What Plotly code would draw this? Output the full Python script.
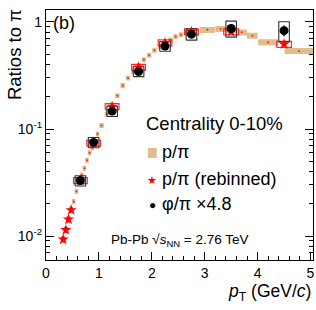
import plotly.graph_objects as go

# ---- data ----
tan_pt = [0.525, 0.575, 0.625, 0.675, 0.725, 0.775, 0.825, 0.875, 0.925, 0.975,
          1.05, 1.15, 1.25, 1.35, 1.45, 1.55, 1.65, 1.75, 1.85, 1.95,
          2.05, 2.15, 2.25, 2.35, 2.45, 2.55, 2.65, 2.75, 3.05, 3.3,
          3.5, 3.7, 3.9, 4.2, 4.78]
tan_val = [0.021, 0.0262, 0.031, 0.0372, 0.043, 0.051, 0.060, 0.067, 0.077, 0.090,
           0.108, 0.138, 0.168, 0.205, 0.255, 0.30, 0.345, 0.39, 0.445, 0.49,
           0.545, 0.59, 0.635, 0.68, 0.73, 0.76, 0.80, 0.815, 0.845, 0.86,
           0.845, 0.80, 0.745, 0.646, 0.536]
tan_hw = [0.033] * 10 + [0.042] * 17 + [0.05, 0.14, 0.1, 0.1, 0.1, 0.1, 0.19, 0.27]
tan_sys = [0.055] * 10 + [0.055] * 17 + [0.065] * 8

reb_pt = [0.325, 0.375, 0.425, 0.475, 0.65, 0.9, 1.25, 1.75, 2.25, 2.75, 3.5, 4.5]
reb_val = [0.0093, 0.0114, 0.0143, 0.0175, 0.033, 0.074, 0.162, 0.377, 0.64, 0.81, 0.81, 0.62]
reb_hw = [0.025, 0.025, 0.025, 0.025, 0.13, 0.13, 0.13, 0.13, 0.13, 0.13, 0.14, 0.14]
reb_sys = [0.05, 0.05, 0.05, 0.05, 0.065, 0.065, 0.065, 0.065, 0.065, 0.065, 0.065, 0.065]

phi_pt = [0.65, 0.9, 1.25, 1.75, 2.25, 2.75, 3.5, 4.5]
phi_val = [0.033, 0.075, 0.147, 0.345, 0.595, 0.77, 0.87, 0.83]
phi_stat = [0.001, 0.002, 0.004, 0.008, 0.015, 0.02, 0.04, 0.1]
phi_hw = [0.1] * 8
phi_sys = [0.11, 0.11, 0.11, 0.105, 0.105, 0.12, 0.17, 0.21]

x_ticks = [0, 1, 2, 3, 4, 5]
y_ticks = [0.01, 0.1, 1]
y_ticktext = ["10<sup>-2</sup>", "10<sup>-1</sup>", "1"]
y_minor = [0.006, 0.007, 0.008, 0.009,
           0.02, 0.03, 0.04, 0.05, 0.06, 0.07, 0.08, 0.09,
           0.2, 0.3, 0.4, 0.5, 0.6, 0.7, 0.8, 0.9]

FONT = "Liberation Sans, Arial, sans-serif"


def boxes(xs, ys, hws, syss):
    bx, by = [], []
    for x, y, hw, s in zip(xs, ys, hws, syss):
        lo, hi = y * (1 - s), y * (1 + s)
        bx += [x - hw, x + hw, x + hw, x - hw, x - hw, None]
        by += [lo, lo, hi, hi, lo, None]
    return bx, by


fig = go.Figure()

# tan systematic boxes for p/pi
tx, ty = boxes(tan_pt, tan_val, tan_hw, tan_sys)
fig.add_trace(go.Scatter(x=tx, y=ty, mode="lines", fill="toself",
                         fillcolor="rgb(222,190,140)", line=dict(width=0),
                         hoverinfo="skip", showlegend=False))
fig.add_trace(go.Scatter(x=tan_pt, y=tan_val, mode="markers",
                         marker=dict(color="rgb(240,40,30)", size=2), showlegend=False))

# red boxes for rebinned
rx, ry = boxes(reb_pt, reb_val, reb_hw, reb_sys)
fig.add_trace(go.Scatter(x=rx, y=ry, mode="lines",
                         line=dict(color="rgba(255,20,20,0.9)", width=1.2),
                         hoverinfo="skip", showlegend=False))

# black boxes for phi
px_, py_ = boxes(phi_pt, phi_val, phi_hw, phi_sys)
fig.add_trace(go.Scatter(x=px_, y=py_, mode="lines",
                         line=dict(color="#333333", width=1.1),
                         hoverinfo="skip", showlegend=False))

fig.add_trace(go.Scatter(x=reb_pt, y=reb_val, mode="markers",
                         marker=dict(symbol="star", color="red", size=8.5,
                                     line=dict(width=0)),
                         showlegend=False))

fig.add_trace(go.Scatter(x=phi_pt, y=phi_val, mode="markers",
                         error_y=dict(type="data", array=phi_stat, color="black",
                                      thickness=1.2, width=0),
                         marker=dict(symbol="circle", color="black", size=9),
                         showlegend=False))

# ---- layout geometry helpers (plot area pixels) ----
L, R, T, B = 45.5, 313, 10, 260
W, H = 316, 310


def xp(px):
    return (px - L) / (R - L)


def yp(py):
    return (B - py) / (B - T)


ann = []
ann.append(dict(text="(b)", x=xp(51), y=yp(23), xanchor="left", yanchor="middle",
                font=dict(size=18)))
ann.append(dict(text="Centrality 0-10%", x=xp(144), y=yp(124), xanchor="left",
                yanchor="middle", font=dict(size=18.5)))
ann.append(dict(text="p/π", x=xp(160), y=yp(152), xanchor="left", yanchor="middle",
                font=dict(size=18)))
ann.append(dict(text="p/π (rebinned)", x=xp(160), y=yp(179), xanchor="left",
                yanchor="middle", font=dict(size=18)))
ann.append(dict(text="φ/π ×4.8", x=xp(160), y=yp(204), xanchor="left",
                yanchor="middle", font=dict(size=18)))
ann.append(dict(text="★", x=xp(152), y=yp(180), xanchor="center", yanchor="middle",
                font=dict(size=11, color="red")))
ann.append(dict(text="●", x=xp(152), y=yp(204.5), xanchor="center", yanchor="middle",
                font=dict(size=12, color="black")))
ann.append(dict(text="Pb-Pb √<i>s</i><sub>NN</sub> = 2.76 TeV", x=xp(109), y=yp(240),
                xanchor="left", yanchor="middle", font=dict(size=13.5)))
ann.append(dict(text="Ratios to π", x=xp(13.5), y=yp(55), xanchor="center",
                yanchor="middle", textangle=-90, font=dict(size=18.5)))
ann.append(dict(text="<i>p</i><sub>T</sub> (GeV/<i>c</i>)", x=xp(313), y=yp(292),
                xanchor="right", yanchor="middle", font=dict(size=17.5)))
for a in ann:
    a.update(xref="paper", yref="paper", showarrow=False)

fig.update_layout(
    width=W, height=H,
    margin=dict(l=L, r=W - R, t=T, b=H - B),
    paper_bgcolor="white", plot_bgcolor="white",
    font=dict(family=FONT, color="black", size=14),
    showlegend=False,
    annotations=ann,
    shapes=[dict(type="rect", xref="paper", yref="paper",
                 x0=xp(147.5), x1=xp(156.5), y0=yp(158), y1=yp(148),
                 fillcolor="rgb(222,190,140)", line=dict(width=0))],
)

fig.update_xaxes(range=[0, 5.047], tickvals=x_ticks, ticks="inside", ticklen=8,
                 tickwidth=1, tickcolor="black", showline=True, linecolor="black",
                 linewidth=1.2, mirror=True, showgrid=False, zeroline=False,
                 tickfont=dict(size=14), automargin=False,
                 minor=dict(dtick=0.2, ticks="inside", ticklen=4, tickcolor="black",
                            showgrid=False))
fig.update_yaxes(type="log", range=[-2.224, 0.112], tickvals=y_ticks,
                 ticktext=y_ticktext, ticks="inside", ticklen=8, tickwidth=1,
                 tickcolor="black", showline=True, linecolor="black", linewidth=1.2,
                 mirror="ticks", showgrid=False, zeroline=False,
                 tickfont=dict(size=14), automargin=False,
                 minor=dict(tickvals=y_minor, ticks="inside", ticklen=4,
                            tickcolor="black", showgrid=False))

fig.write_html("out.html", config={"displayModeBar": False},
               post_script="document.body.style.margin='0px';")
